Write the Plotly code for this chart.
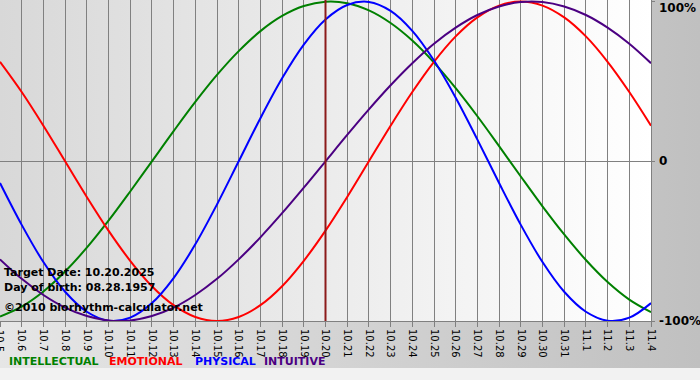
import plotly.graph_objects as go

# ---------------- data ----------------
dates = ["10.5", "10.6", "10.7", "10.8", "10.9", "10.10", "10.11", "10.12", "10.13",
         "10.14", "10.15", "10.16", "10.17", "10.18", "10.19", "10.20", "10.21",
         "10.22", "10.23", "10.24", "10.25", "10.26", "10.27", "10.28", "10.29",
         "10.30", "10.31", "11.1", "11.2", "11.3", "11.4"]

intellectual = [-0.972, -0.910, -0.815, -0.690, -0.541, -0.372, -0.189, 0.0, 0.189,
                0.372, 0.541, 0.690, 0.815, 0.910, 0.972, 0.999, 0.990, 0.945, 0.866,
                0.756, 0.618, 0.458, 0.282, 0.095, -0.095, -0.282, -0.458, -0.618,
                -0.756, -0.866, -0.945]

emotional = [0.623, 0.434, 0.223, 0.0, -0.223, -0.434, -0.623, -0.782, -0.901, -0.975,
             -1.0, -0.975, -0.901, -0.782, -0.623, -0.434, -0.223, 0.0, 0.223, 0.434,
             0.623, 0.782, 0.901, 0.975, 1.0, 0.975, 0.901, 0.782, 0.623, 0.434, 0.223]

physical = [-0.136, -0.398, -0.631, -0.817, -0.942, -0.998, -0.979, -0.888, -0.731,
            -0.520, -0.270, 0.0, 0.270, 0.520, 0.731, 0.888, 0.979, 0.998, 0.942,
            0.817, 0.631, 0.398, 0.136, -0.136, -0.398, -0.631, -0.817, -0.942,
            -0.998, -0.979, -0.888]

intuitive = [-0.614, -0.736, -0.837, -0.916, -0.969, -0.997, -0.997, -0.969, -0.916,
             -0.837, -0.736, -0.614, -0.476, -0.325, -0.165, 0.0, 0.165, 0.325, 0.476,
             0.614, 0.736, 0.837, 0.916, 0.969, 0.997, 0.997, 0.969, 0.916, 0.837,
             0.736, 0.614]

series_names = ["INTELLECTUAL", "EMOTIONAL", "PHYSICAL", "INTUITIVE"]
target_label = "10.20"
y_tick_vals = [1, 0, -1]
y_tick_text = ["100%", "0", "-100%"]
info_lines = ["Target Date: 10.20.2025", "Day of birth: 08.28.1957",
              "©2010 biorhythm-calculator.net"]

# ---------------- styling ----------------
colors = ["#008000", "#ff0000", "#0000ff", "#4b0082"]
W, H = 700, 380
ML, MR, MT, MB = 0, 49, 0, 59
PW, PH = W - ML - MR, H - MT - MB
tick_font = dict(family="DejaVu Sans", size=10, color="#000000")

x_idx = list(range(len(dates)))

fig = go.Figure()
for name, vals, col in zip(series_names, [intellectual, emotional, physical, intuitive], colors):
    fig.add_trace(go.Scatter(x=x_idx, y=vals, mode="lines", name=name,
                             line=dict(color=col, width=2, shape="spline", smoothing=1),
                             hoverinfo="skip"))

plot_grad = ("data:image/svg+xml;utf8,"
             "<svg xmlns='http://www.w3.org/2000/svg' width='100' height='100' preserveAspectRatio='none'>"
             "<defs><linearGradient id='g' x1='0' y1='0' x2='1' y2='0'>"
             "<stop offset='0' stop-color='%23d8d8d8'/><stop offset='1' stop-color='%23ffffff'/>"
             "</linearGradient></defs><rect width='100' height='100' fill='url(%23g)'/></svg>")
paper_grad = ("data:image/svg+xml;utf8,"
              "<svg xmlns='http://www.w3.org/2000/svg' width='100' height='100' preserveAspectRatio='none'>"
              "<defs><linearGradient id='g' x1='0' y1='0' x2='1' y2='0'>"
              "<stop offset='0' stop-color='%23e6e6e6'/><stop offset='1' stop-color='%23c0c0c0'/>"
              "</linearGradient></defs><rect width='100' height='100' fill='url(%23g)'/></svg>")

images = [
    dict(source=paper_grad, xref="paper", yref="paper", x=-ML / PW, y=1 + MT / PH,
         sizex=W / PW, sizey=H / PH, xanchor="left", yanchor="top",
         sizing="stretch", layer="below"),
    dict(source=plot_grad, xref="paper", yref="paper", x=0, y=1, sizex=1, sizey=1,
         xanchor="left", yanchor="top", sizing="stretch", layer="below"),
]

shapes = [
    dict(type="rect", xref="paper", yref="paper", x0=-0.01, x1=W / PW + 0.01,
         y0=-(MB - 12) / PH, y1=-(MB + 2) / PH, fillcolor="#f2f2f2", line_width=0,
         layer="below"),
    dict(type="line", xref="x", yref="paper", x0=dates.index(target_label),
         x1=dates.index(target_label), y0=0, y1=1,
         line=dict(color="#8b1a1a", width=2), layer="above"),
]

annotations = []
for i, txt in enumerate(info_lines):
    ycen = [272, 287, 307][i]
    annotations.append(dict(text=txt, xref="paper", yref="paper", x=0, xshift=2,
                            y=(PH - ycen) / PH, xanchor="left", yanchor="middle",
                            showarrow=False,
                            font=dict(family="DejaVu Sans", size=11, color="#000000",
                                      weight="bold")))

legend_x = [7, 107, 193, 262]
for name, col, px in zip(series_names, colors, legend_x):
    annotations.append(dict(text=name, xref="paper", yref="paper", x=px / PW,
                            y=(PH - 362) / PH, xanchor="left", yanchor="middle",
                            showarrow=False,
                            font=dict(family="DejaVu Sans", size=11, color=col,
                                      weight="bold")))

for v, t, ypx in zip(y_tick_vals, y_tick_text, [8, 161, 321]):
    annotations.append(dict(text=t, xref="paper", yref="paper", x=1, xshift=6,
                            y=(PH - ypx) / PH, xanchor="left", yanchor="middle",
                            showarrow=False,
                            font=dict(family="DejaVu Sans", size=12, color="#000000",
                                      weight="bold")))

# first date label (plotly drops the edge tick label)
annotations.append(dict(text=dates[0], xref="x", yref="paper", x=x_idx[0], y=0,
                        yshift=-7, xanchor="center", yanchor="top", textangle=90,
                        showarrow=False, font=tick_font))

fig.update_layout(
    width=W, height=H,
    margin=dict(l=ML, r=MR, t=MT, b=MB, pad=0),
    paper_bgcolor="#d4d4d4",
    plot_bgcolor="rgba(0,0,0,0)",
    showlegend=False,
    images=images,
    shapes=shapes,
    annotations=annotations,
    xaxis=dict(range=[0, len(dates) - 1], tickmode="array", tickvals=x_idx,
               ticktext=dates, tickangle=90, showgrid=True, gridcolor="#808080",
               gridwidth=1, zeroline=False, showline=True, linecolor="#808080",
               linewidth=1, ticks="outside", ticklen=5, tickcolor="#808080",
               tickfont=tick_font, fixedrange=True),
    yaxis=dict(range=[-1.0, 1.01], side="right", tickmode="array",
               tickvals=y_tick_vals, showticklabels=False, showgrid=False,
               zeroline=True, zerolinecolor="#808080", zerolinewidth=1,
               showline=True, linecolor="#808080", linewidth=1,
               ticks="outside", ticklen=3, tickcolor="#808080", fixedrange=True),
)

fig.write_html("out.html", config={"displayModeBar": False},
               post_script="document.body.style.margin='0';document.body.style.padding='0';")
